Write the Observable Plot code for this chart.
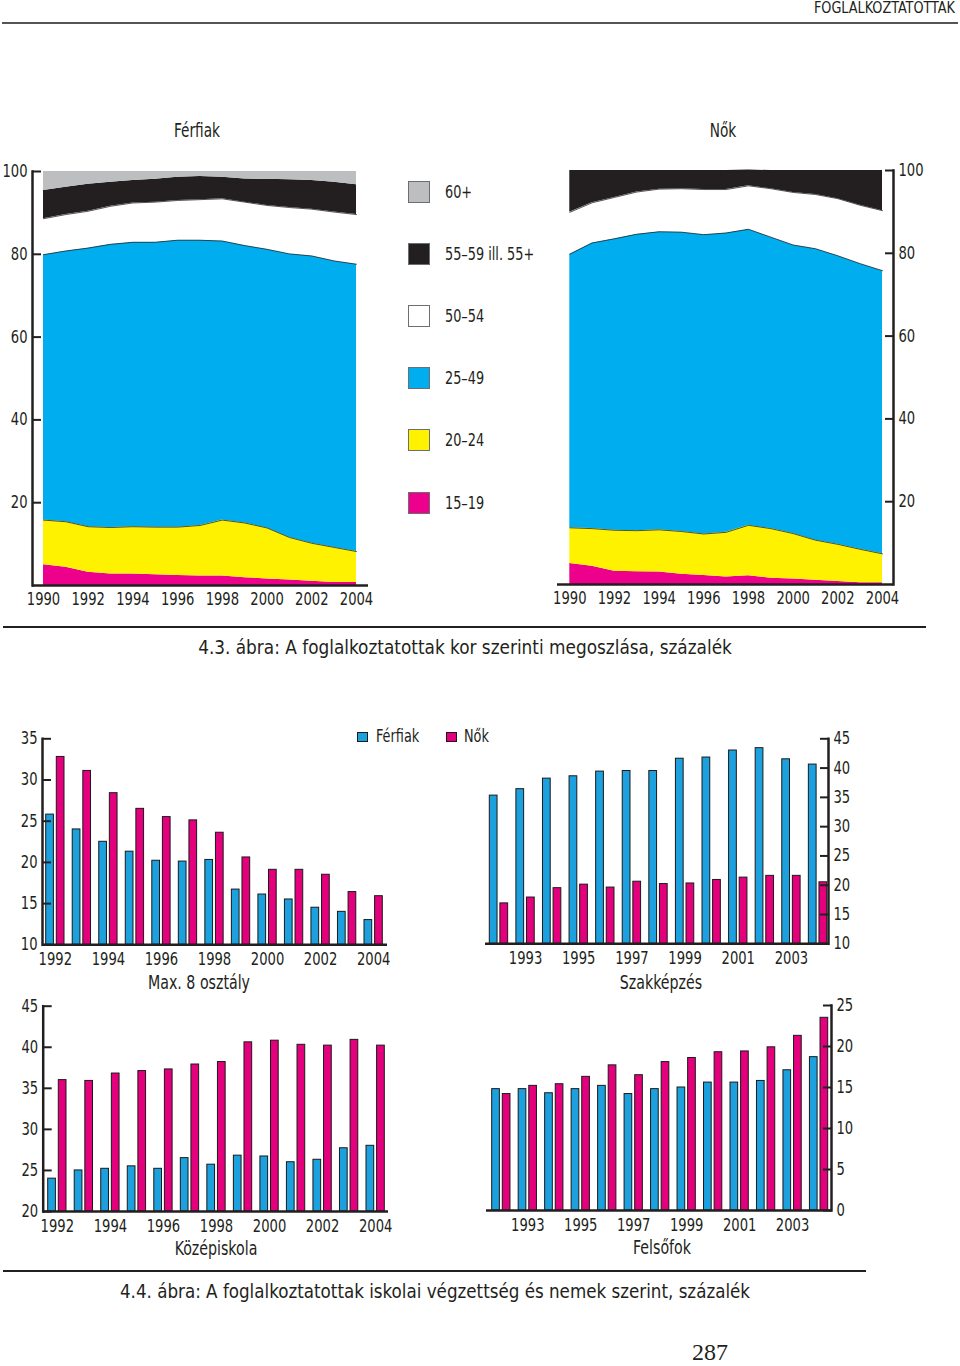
<!DOCTYPE html>
<html><head><meta charset="utf-8">
<script src="https://cdn.jsdelivr.net/npm/d3@7"></script>
<script src="https://cdn.jsdelivr.net/npm/@observablehq/plot@0.6"></script>
<style>
body{margin:0;background:#fff;}
#page{position:relative;width:960px;height:1366px;overflow:hidden;font-family:"Liberation Sans Narrow","DejaVu Sans Condensed","Open Sans",sans-serif;font-stretch:condensed;color:#231f20;}
.t{position:absolute;white-space:nowrap;line-height:1;}
.hr{position:absolute;background:#231f20;}
.sw{position:absolute;box-sizing:border-box;}
</style></head>
<body><div id="page"></div>
<script>
// ---------- data ----------
const areaYears = [1990,1991,1992,1993,1994,1995,1996,1997,1998,1999,2000,2001,2002,2003,2004];
const areaTicks = [1990,1992,1994,1996,1998,2000,2002,2004];
const pctTicks = [20,40,60,80,100];
const ageGroups = ["15–19","20–24","25–49","50–54","55–59 ill. 55+","60+"];
const ageColors = ["#ec008c","#fff200","#00aeef","#ffffff","#231f20","#bcbec0"];

// Férfiak (shares, %)
const men1519 = [5.0,4.4,3.2,2.8,2.8,2.6,2.4,2.3,2.3,1.9,1.6,1.3,1.0,0.7,0.7];
const men2024 = [10.8,11.0,11.0,11.2,11.4,11.5,11.7,12.2,13.5,13.2,12.3,10.3,9.2,8.5,7.5];
const men2549 = [64.1,65.4,67.3,68.4,68.7,68.8,69.3,68.9,67.4,67.0,67.3,68.5,69.4,69.2,69.4];
const men5054 = [8.7,8.8,8.9,9.2,9.5,9.7,9.6,9.8,10.2,10.5,10.6,11.2,11.3,11.8,12.0];
const men5559 = [6.8,6.6,6.5,5.8,5.4,5.5,5.6,5.6,5.2,5.6,6.3,6.7,6.9,7.2,7.2];
const men60 = [4.6,3.8,3.1,2.6,2.2,1.9,1.4,1.2,1.4,1.8,1.9,2.0,2.2,2.6,3.2];
// Nők (shares, %)
const women1519 = [5.1,4.4,3.2,3.1,3.0,2.5,2.2,1.8,2.1,1.5,1.3,1.0,0.7,0.4,0.4];
const women2024 = [8.6,9.1,9.9,9.9,10.2,10.3,10.0,10.8,12.2,12.0,11.0,9.7,9.0,8.1,7.0];
const women2549 = [66.1,69.0,70.4,71.6,72.0,72.3,72.3,72.3,71.5,70.4,69.7,70.4,69.7,69.0,68.4];
const women5054 = [10.1,9.7,10.0,10.2,10.3,10.5,10.9,10.5,10.5,11.7,12.7,13.1,13.8,14.1,14.5];
const women55 = [10.1,7.8,6.5,5.2,4.5,4.4,4.6,4.6,3.8,4.4,5.3,5.8,6.8,8.4,9.7];

// Bar charts
const barYears = [1992,1993,1994,1995,1996,1997,1998,1999,2000,2001,2002,2003,2004];
const evenTicks = [1992,1994,1996,1998,2000,2002,2004];
const oddTicks = [1993,1995,1997,1999,2001,2003];
const sexes = ["Férfiak","Nők"];
const sexColors = ["#1ca1de","#e4007d"];
const max8Men = [25.8,24.0,22.5,21.3,20.2,20.1,20.3,16.7,16.1,15.5,14.5,14.0,13.0];
const max8Women = [32.8,31.1,28.4,26.5,25.5,25.1,23.6,20.6,19.1,19.1,18.5,16.4,15.9];
const max8YTicks = [10,15,20,25,30,35];
const vocMen = [35.3,36.4,38.2,38.6,39.4,39.5,39.5,41.6,41.8,43.0,43.4,41.5,40.6];
const vocWomen = [16.9,17.9,19.5,20.1,19.6,20.6,20.2,20.3,20.9,21.3,21.6,21.6,20.5];
const vocYTicks = [10,15,20,25,30,35,40,45];
const secMen = [24.0,25.0,25.2,25.5,25.2,26.5,25.7,26.8,26.7,26.0,26.3,27.7,28.0];
const secWomen = [36.0,35.9,36.8,37.1,37.3,37.9,38.2,40.6,40.8,40.3,40.2,40.9,40.2];
const secYTicks = [20,25,30,35,40,45];
const highMen = [14.8,14.8,14.3,14.8,15.2,14.2,14.8,15.0,15.6,15.6,15.8,17.1,18.7];
const highWomen = [14.2,15.2,15.4,16.3,17.7,16.5,18.1,18.6,19.3,19.4,19.9,21.3,23.5];
const highYTicks = [0,5,10,15,20,25];

// ---------- helpers ----------
const FONT = '"Liberation Sans Narrow","DejaVu Sans Condensed","Open Sans",sans-serif';
const INK = "#231f20";
const page = document.getElementById("page");
function squeeze(svg, k) {
  svg.querySelectorAll("text").forEach(t => {
    t.setAttribute("transform", (t.getAttribute("transform") || "") + ` scale(${k},1)`);
  });
  return svg;
}
function place(node, left, top) {
  squeeze(node, 0.86);
  node.style.position = "absolute";
  node.style.left = left + "px";
  node.style.top = top + "px";
  page.appendChild(node);
}
function text(str, x, y, align, size, k, extra) {
  const d = document.createElement("div");
  d.className = "t";
  d.textContent = str;
  d.style.left = x + "px"; d.style.top = y + "px";
  d.style.fontSize = size + "px";
  const tx = align === "c" ? "-50%" : align === "r" ? "-100%" : "0";
  const ox = align === "c" ? "50%" : align === "r" ? "100%" : "0";
  d.style.transformOrigin = ox + " 50%";
  d.style.transform = `translate(${tx},-50%) scaleX(${k})`;
  if (extra) Object.assign(d.style, extra);
  page.appendChild(d);
}
function hr(x, y, w, h, color) {
  const d = document.createElement("div");
  d.className = "hr";
  Object.assign(d.style, {left: x + "px", top: y + "px", width: w + "px", height: h + "px", background: color || INK});
  page.appendChild(d);
}
function swatch(x, y, w, color, border) {
  const d = document.createElement("div");
  d.className = "sw";
  Object.assign(d.style, {left: x + "px", top: y + "px", width: w + "px", height: w + "px", background: color, border: "1px solid " + border});
  page.appendChild(d);
}
const style = {fontFamily: FONT, fontSize: "17px", color: INK, background: "transparent", overflow: "visible", fontStretch: "condensed"};
const fmt = d => String(d);

function tidyAge(series) {
  const rows = [];
  series.forEach((vals, gi) => vals.forEach((v, i) => rows.push({year: areaYears[i], group: ageGroups[gi], value: v})));
  return rows;
}
const menRows = tidyAge([men1519, men2024, men2549, men5054, men5559, men60]);
const womenRows = tidyAge([women1519, women2024, women2549, women5054, women55]);

function areaChart(rows, side) {
  const left = side === "left";
  return Plot.plot({
    width: 380, height: 460,
    marginLeft: left ? 32 : 7, marginRight: left ? 12 : 37,
    marginTop: left ? 11 : 10, marginBottom: left ? 35 : 36,
    x: {domain: [areaYears[0], areaYears[areaYears.length - 1]], insetLeft: left ? 11 : 12.3, insetRight: left ? 12 : 11},
    y: {domain: [0, 100]},
    color: {domain: ageGroups, range: ageColors},
    style,
    marks: [
      Plot.areaY(rows, Plot.stackY({x: "year", y: "value", z: "group", fill: "group"})),
      Plot.lineY(rows, Plot.stackY2({x: "year", y: "value", z: "group", stroke: "#2b2b2b", strokeWidth: 0.8,
        strokeOpacity: d => (d.group === ageGroups[0] || d.group === ageGroups[5] || d.group === ageGroups[4]) ? 0 : 1})),
      Plot.ruleY([0], {stroke: INK, strokeWidth: 2.5}),
      Plot.frame({anchor: left ? "left" : "right", stroke: INK, strokeWidth: 2.5}),
      Plot.axisY({anchor: left ? "left" : "right", ticks: pctTicks, tickSize: -9, tickPadding: 14, tickFormat: fmt, label: null, strokeWidth: 2, fill: INK, stroke: INK}),
      Plot.axisX({ticks: areaTicks, tickSize: 0, tickPadding: 7, tickFormat: fmt, label: null, fill: INK})
    ]
  });
}

function barChart(men, women, yTicks, xTicks, cfg) {
  const rowsM = barYears.map((y, i) => ({year: y, value: men[i]}));
  const rowsW = barYears.map((y, i) => ({year: y, value: women[i]}));
  const base = yTicks[0];
  return Plot.plot({
    width: 400, height: 265,
    marginLeft: cfg.ml, marginRight: cfg.mr, marginTop: cfg.mt, marginBottom: cfg.mb,
    x: {type: "band", domain: barYears, paddingInner: 0.31, paddingOuter: 0, align: 0.5, round: false, insetLeft: cfg.il, insetRight: cfg.ir},
    y: {domain: [yTicks[0], yTicks[yTicks.length - 1]]},
    style,
    marks: [
      Plot.barY(rowsM, {x: "year", y1: base, y2: "value", fill: sexColors[0], stroke: "#1a1a1a", strokeWidth: 1, insetRight: 10.6}),
      Plot.barY(rowsW, {x: "year", y1: base, y2: "value", fill: sexColors[1], stroke: "#1a1a1a", strokeWidth: 1, insetLeft: 10.6}),
      Plot.ruleY([base], {stroke: INK, strokeWidth: 2.5}),
      Plot.frame({anchor: cfg.side, stroke: INK, strokeWidth: 2.5}),
      Plot.axisY({anchor: cfg.side, ticks: yTicks, tickSize: -9, tickPadding: 14, tickFormat: fmt, label: null, strokeWidth: 2, fill: INK, stroke: INK}),
      Plot.axisX({ticks: xTicks, tickSize: 0, tickPadding: 8, tickFormat: fmt, label: null, fill: INK})
    ]
  });
}

// ---------- page ----------
text("FOGLALKOZTATOTTAK", 955, 8, "r", 15, 0.95);
hr(2, 22, 956, 2, "#555");

text("Férfiak", 197, 130, "c", 19, 0.8);
text("Nők", 723, 130, "c", 19, 0.8);

place(areaChart(menRows, "left"), 0, 160);
place(areaChart(womenRows, "right"), 550, 160);

const legendY = [191.7, 253.8, 315.9, 378.1, 440.4, 502.5];
const legendOrder = [5, 4, 3, 2, 1, 0];
legendOrder.forEach((gi, k) => {
  swatch(407.5, legendY[k] - 11, 22, ageColors[gi], "#6d6e71");
  text(ageGroups[gi], 444.5, legendY[k], "l", 17, 0.84);
});

hr(3, 626, 923, 2);
text("4.3. ábra: A foglalkoztatottak kor szerinti megoszlása, százalék", 464.5, 647, "c", 20, 0.94);

// legend for bar charts
swatch(357.3, 731.5, 10.5, sexColors[0], "#1a1a1a");
text(sexes[0], 376, 736, "l", 17, 0.84);
swatch(446, 731.5, 10.5, sexColors[1], "#1a1a1a");
text(sexes[1], 464, 736, "l", 17, 0.84);

place(barChart(max8Men, max8Women, max8YTicks, evenTicks, {side: "left", ml: 42, mr: 13, mt: 13.3, mb: 45.7, il: 3.7, ir: 4.7}), 0, 725);
place(barChart(vocMen, vocWomen, vocYTicks, oddTicks, {side: "right", ml: 15, mr: 42, mt: 13.3, mb: 46.7, il: 4.3, ir: 1.3}), 470, 725);
place(barChart(secMen, secWomen, secYTicks, evenTicks, {side: "left", ml: 42.7, mr: 12, mt: 13.7, mb: 46, il: 5, ir: 3.7}), 0, 992);
place(barChart(highMen, highWomen, highYTicks, oddTicks, {side: "right", ml: 16, mr: 39, mt: 13, mb: 47, il: 5.7, ir: 3.3}), 470, 992);

text("Max. 8 osztály", 199, 982, "c", 19, 0.83);
text("Szakképzés", 661, 982, "c", 19, 0.83);
text("Középiskola", 216, 1248, "c", 19, 0.83);
text("Felsőfok", 662, 1247, "c", 19, 0.83);

hr(3, 1270, 863, 2);
text("4.4. ábra: A foglalkoztatottak iskolai végzettség és nemek szerint, százalék", 435, 1291, "c", 20, 0.93);

text("287", 710, 1352, "c", 24, 1, {fontFamily: '"Liberation Serif","DejaVu Serif",serif', fontStretch: "normal"});
</script>
</body></html>
